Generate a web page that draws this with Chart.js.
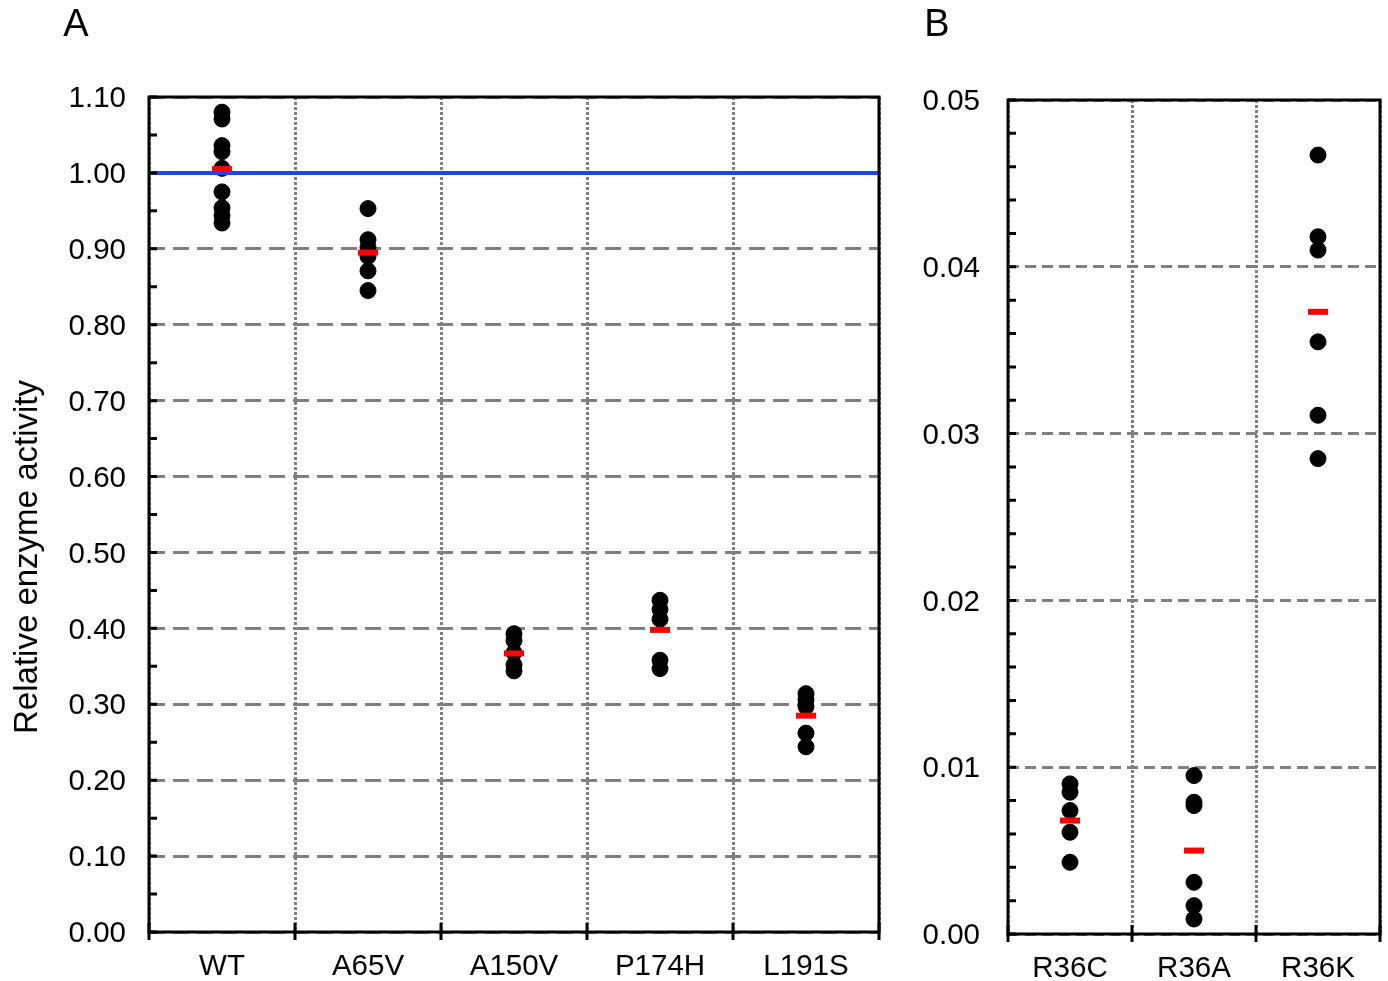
<!DOCTYPE html>
<html>
<head>
<meta charset="utf-8">
<script src="https://cdn.jsdelivr.net/npm/chart.js@4.4.0/dist/chart.umd.min.js"></script>
<style>
  body { margin: 0; background: #fff; }
  #wrapA { position: absolute; left: 0; top: 0; width: 900px; height: 981px; }
  #wrapB { position: absolute; left: 900px; top: 0; width: 488px; height: 981px; }
</style>
</head>
<body>
<div id="wrapA"><canvas id="chartA"></canvas></div>
<div id="wrapB"><canvas id="chartB"></canvas></div>
<script>
// panel A
const labelsA = ["WT", "A65V", "A150V", "P174H", "L191S"];
const valuesWT = [1.080, 1.071, 1.036, 1.028, 1.006, 0.975, 0.954, 0.944, 0.934];
const valuesA65V = [0.953, 0.912, 0.902, 0.890, 0.871, 0.845];
const valuesA150V = [0.393, 0.384, 0.368, 0.352, 0.344];
const valuesP174H = [0.437, 0.425, 0.412, 0.358, 0.347];
const valuesL191S = [0.314, 0.306, 0.297, 0.262, 0.244];
const meansA = [1.005, 0.895, 0.367, 0.398, 0.285];
const yTicksA = [0.00, 0.10, 0.20, 0.30, 0.40, 0.50, 0.60, 0.70, 0.80, 0.90, 1.00, 1.10];
const yMinorA = [0.05, 0.15, 0.25, 0.35, 0.45, 0.55, 0.65, 0.75, 0.85, 0.95, 1.05];
const refValueA = 1.00;

// panel B
const labelsB = ["R36C", "R36A", "R36K"];
const valuesR36C = [0.0090, 0.0085, 0.0074, 0.0061, 0.0043];
const valuesR36A = [0.0095, 0.0079, 0.0077, 0.0031, 0.0017, 0.0009];
const valuesR36K = [0.0467, 0.0418, 0.0410, 0.0355, 0.0311, 0.0285];
const meansB = [0.0068, 0.0050, 0.0373];
const yTicksB = [0.00, 0.01, 0.02, 0.03, 0.04, 0.05];
const yMinorB = [0.002, 0.004, 0.006, 0.008, 0.012, 0.014, 0.016, 0.018,
                 0.022, 0.024, 0.026, 0.028, 0.032, 0.034, 0.036, 0.038,
                 0.042, 0.044, 0.046, 0.048];

const FONT = "'Liberation Sans', Arial, sans-serif";

// frame, inward ticks, panel letter and y title
const frameAndTicks = {
  id: "frameAndTicks",
  afterDraw(chart, args, opts) {
    const { ctx, chartArea: a, scales: { x, y } } = chart;
    ctx.save();
    ctx.strokeStyle = "#000";
    ctx.lineWidth = 3;
    ctx.beginPath();
    opts.yticks.concat(opts.minor).forEach(v => {
      const py = y.getPixelForValue(v);
      ctx.moveTo(a.left, py);
      ctx.lineTo(a.left + 8, py);
    });
    for (let i = 0; i <= x.ticks.length; i++) {
      const px = x.getPixelForValue(i - 0.5);
      ctx.moveTo(px, a.bottom - 9);
      ctx.lineTo(px, a.bottom + 8);
    }
    ctx.stroke();
    ctx.strokeRect(a.left, a.top, a.right - a.left, a.bottom - a.top);

    ctx.fillStyle = "#000";
    ctx.textAlign = "center";
    ctx.textBaseline = "middle";
    ctx.font = "38px " + FONT;
    ctx.fillText(opts.letter, opts.letterX, 26);
    if (opts.title) {
      ctx.font = "33px " + FONT;
      ctx.translate(opts.titleX, opts.titleY);
      ctx.rotate(-Math.PI / 2);
      ctx.fillText(opts.title, 0, 0);
    }
    ctx.restore();
  }
};

// reference line drawn over the dots, under the mean bars
const refLine = {
  id: "refLine",
  afterDatasetDraw(chart, args, opts) {
    if (args.index !== 1 || opts.value == null) return;
    const { ctx, chartArea: a, scales: { y } } = chart;
    const py = y.getPixelForValue(opts.value);
    ctx.save();
    ctx.strokeStyle = "#1f45fc";
    ctx.lineWidth = 4;
    ctx.beginPath();
    ctx.moveTo(a.left, py);
    ctx.lineTo(a.right, py);
    ctx.stroke();
    ctx.restore();
  }
};

function makeChart(id, p) {
  const dots = p.labels.flatMap((c, i) => p.values[i].map(v => ({ x: c, y: v })));
  const means = p.labels.map((c, i) => ({ x: c, y: p.means[i] }));
  return new Chart(document.getElementById(id), {
    type: "line",
    data: {
      labels: p.labels,
      datasets: [
        {
          data: means,
          showLine: false,
          pointStyle: "line",
          pointRadius: 10,
          pointBorderWidth: 6,
          pointBorderColor: "#ff0000",
          pointBackgroundColor: "#ff0000"
        },
        {
          data: dots,
          showLine: false,
          pointStyle: "circle",
          pointRadius: 8,
          pointBorderWidth: 1,
          pointBorderColor: "#000",
          pointBackgroundColor: "#000"
        }
      ]
    },
    options: {
      responsive: true,
      maintainAspectRatio: false,
      animation: false,
      events: [],
      layout: { padding: p.padding, autoPadding: false },
      plugins: {
        legend: { display: false },
        tooltip: { enabled: false },
        frameAndTicks: {
          yticks: p.yticks, minor: p.minor, letter: p.letter, letterX: p.letterX,
          title: p.title, titleX: 28, titleY: 557
        },
        refLine: { value: p.ref }
      },
      scales: {
        x: {
          type: "category",
          offset: true,
          afterFit: s => { s.height = p.xHeight; s.paddingLeft = 0; s.paddingRight = 0; },
          grid: {
            offset: true, color: "#808080", lineWidth: 3,
            drawTicks: true, tickLength: 17, tickColor: "rgba(0,0,0,0)"
          },
          border: { display: false, dash: p.vdash },
          ticks: { color: "#000", font: { family: FONT, size: 29.5 }, padding: 0 }
        },
        y: {
          min: p.yticks[0],
          max: p.yticks[p.yticks.length - 1],
          afterFit: s => { s.width = p.yWidth; },
          afterBuildTicks: s => { s.ticks = p.yticks.map(v => ({ value: v })); },
          grid: { color: "#808080", lineWidth: 3, drawTicks: false },
          border: { display: false, dash: p.hdash },
          ticks: {
            color: "#000",
            font: { family: FONT, size: 29.5 },
            padding: p.tickPad,
            labelOffset: 2,
            callback: v => v.toFixed(2)
          }
        }
      }
    },
    plugins: [frameAndTicks, refLine]
  });
}

makeChart("chartA", {
  labels: labelsA,
  values: [valuesWT, valuesA65V, valuesA150V, valuesP174H, valuesL191S],
  means: meansA,
  yticks: yTicksA, minor: yMinorA, ref: refValueA,
  letter: "A", letterX: 76, title: "Relative enzyme activity",
  padding: { left: 0, right: 21, top: 97, bottom: 0 },
  yWidth: 149, xHeight: 49, tickPad: 23,
  hdash: [16, 8], vdash: [3, 2]
});

makeChart("chartB", {
  labels: labelsB,
  values: [valuesR36C, valuesR36A, valuesR36K],
  means: meansB,
  yticks: yTicksB, minor: yMinorB, ref: null,
  letter: "B", letterX: 37, title: null,
  padding: { left: 0, right: 8, top: 100, bottom: 0 },
  yWidth: 108, xHeight: 47, tickPad: 28,
  hdash: [11, 6], vdash: [3, 2]
});
</script>
</body>
</html>
